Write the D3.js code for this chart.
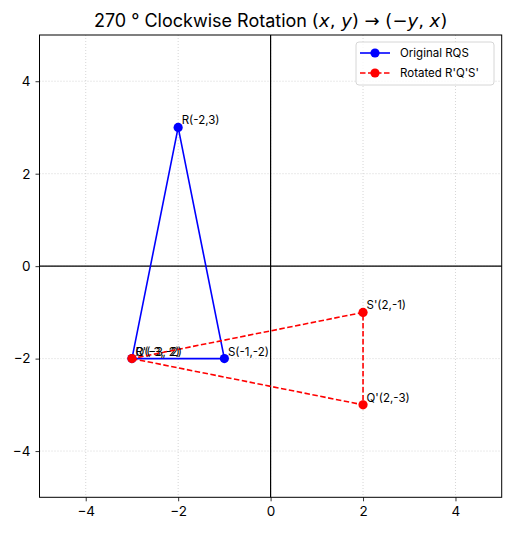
<!DOCTYPE html>
<html>
<head>
<meta charset="utf-8">
<script src="https://cdn.jsdelivr.net/npm/d3@7"></script>
<style>
  body { margin: 0; background: #fff; }
  text { font-family: Inter, Roboto, sans-serif; fill: #000; }
</style>
</head>
<body>
<svg id="chart" width="510" height="533"></svg>
<script>
// original triangle RQS and rotated R'Q'S'
var original = [
  {name: 'R', x: -2, y: 3},
  {name: 'Q', x: -3, y: -2},
  {name: 'S', x: -1, y: -2}
];
var rotated = [
  {name: "R'", x: -3, y: -2},
  {name: "Q'", x: 2, y: -3},
  {name: "S'", x: 2, y: -1}
];
var xTicks = [-4, -2, 0, 2, 4];
var yTicks = [-4, -2, 0, 2, 4];
var seriesNames = ['Original RQS', "Rotated R'Q'S'"];
var seriesColors = ['#0000ff', '#ff0000'];

var svg = d3.select('#chart');
var plotLeft = 39.5, plotRight = 501.7, plotTop = 35, plotBottom = 497.3;

var x = d3.scaleLinear().domain([-5, 5]).range([plotLeft, plotRight]);
var y = d3.scaleLinear().domain([-5, 5]).range([plotBottom, plotTop]);

var fmt = function (d) { return d < 0 ? '\u2212' + Math.abs(d) : '' + d; };

// grid
svg.append('g').selectAll('line').data(xTicks).enter().append('line')
  .attr('x1', function (d) { return x(d); }).attr('x2', function (d) { return x(d); })
  .attr('y1', plotTop).attr('y2', plotBottom)
  .style('stroke', '#cccccc').style('stroke-width', 0.8).style('stroke-dasharray', '1,2');
svg.append('g').selectAll('line').data(yTicks).enter().append('line')
  .attr('y1', function (d) { return y(d); }).attr('y2', function (d) { return y(d); })
  .attr('x1', plotLeft).attr('x2', plotRight)
  .style('stroke', '#cccccc').style('stroke-width', 0.8).style('stroke-dasharray', '1,2');

// zero lines
svg.append('line').attr('x1', x(0)).attr('x2', x(0)).attr('y1', plotTop).attr('y2', plotBottom)
  .style('stroke', '#000').style('stroke-width', 1.2);
svg.append('line').attr('x1', plotLeft).attr('x2', plotRight).attr('y1', y(0)).attr('y2', y(0))
  .style('stroke', '#000').style('stroke-width', 1.2);

// axes
var xAxis = d3.axisBottom(x).tickValues(xTicks).tickFormat(fmt).tickSize(4).tickPadding(5);
var yAxis = d3.axisLeft(y).tickValues(yTicks).tickFormat(fmt).tickSize(4).tickPadding(5);

var gx = svg.append('g').attr('transform', 'translate(0,' + plotBottom + ')').call(xAxis);
var gy = svg.append('g').attr('transform', 'translate(' + plotLeft + ',0)').call(yAxis);
[gx, gy].forEach(function (g) {
  g.select('.domain').remove();
  g.selectAll('line').style('stroke', '#000').style('stroke-width', 0.8);
  g.selectAll('text').style('font-size', '13.5px').style('font-family', 'Inter, sans-serif');
});

// frame
svg.append('rect').attr('x', plotLeft).attr('y', plotTop)
  .attr('width', plotRight - plotLeft).attr('height', plotBottom - plotTop)
  .style('fill', 'none').style('stroke', '#000').style('stroke-width', 1);

var line = d3.line()
  .x(function (d) { return x(d.x); })
  .y(function (d) { return y(d.y); })
  .curve(d3.curveLinearClosed);

function drawTriangle(data, color, dashed) {
  var g = svg.append('g');
  g.append('path').datum(data)
    .attr('d', line)
    .style('fill', 'none')
    .style('stroke', color)
    .style('stroke-width', 1.6)
    .style('stroke-dasharray', dashed ? '5.5,2.5' : null);
  g.selectAll('circle').data(data).enter().append('circle')
    .attr('cx', function (d) { return x(d.x); })
    .attr('cy', function (d) { return y(d.y); })
    .attr('r', 4.6)
    .style('fill', color);
  g.selectAll('text').data(data).enter().append('text')
    .attr('x', function (d) { return x(d.x) + 3.5; })
    .attr('y', function (d) { return y(d.y) - 3; })
    .style('font-size', '11.5px')
    .text(function (d) { return d.name + '(' + d.x + ',' + d.y + ')'; });
}

drawTriangle(original, seriesColors[0], false);
drawTriangle(rotated, seriesColors[1], true);

// title
var title = svg.append('text').attr('x', (plotLeft + plotRight) / 2).attr('y', 27)
  .attr('text-anchor', 'middle').style('font-size', '18px');
var mathStyle = function (t) {
  return t.style('font-style', 'italic').style('font-family', '"DejaVu Sans", sans-serif');
};
title.append('tspan').text('270 \u00b0  Clockwise Rotation ');
mathStyle(title.append('tspan')).style('font-style', 'normal').text('(');
mathStyle(title.append('tspan')).text('x');
mathStyle(title.append('tspan')).style('font-style', 'normal').text(', ');
mathStyle(title.append('tspan')).text('y');
mathStyle(title.append('tspan')).style('font-style', 'normal').text(') \u2192 (\u2212');
mathStyle(title.append('tspan')).text('y');
mathStyle(title.append('tspan')).style('font-style', 'normal').text(', ');
mathStyle(title.append('tspan')).text('x');
mathStyle(title.append('tspan')).style('font-style', 'normal').text(')');

// legend
var leg = svg.append('g').attr('transform', 'translate(356,42)');
leg.append('rect').attr('width', 138).attr('height', 43).attr('rx', 3)
  .style('fill', '#fff').style('fill-opacity', 0.8)
  .style('stroke', '#d6d6d6').style('stroke-width', 1);
seriesNames.forEach(function (name, i) {
  var ly = 11 + i * 20;
  leg.append('line').attr('x1', 4).attr('x2', 34).attr('y1', ly).attr('y2', ly)
    .style('stroke', seriesColors[i]).style('stroke-width', 1.6)
    .style('stroke-dasharray', i ? '5.5,2.5' : null);
  leg.append('circle').attr('cx', 19).attr('cy', ly).attr('r', 4.6).style('fill', seriesColors[i]);
  leg.append('text').attr('x', 44).attr('y', ly + 4).style('font-size', '11.5px').text(name);
});
</script>
</body>
</html>
